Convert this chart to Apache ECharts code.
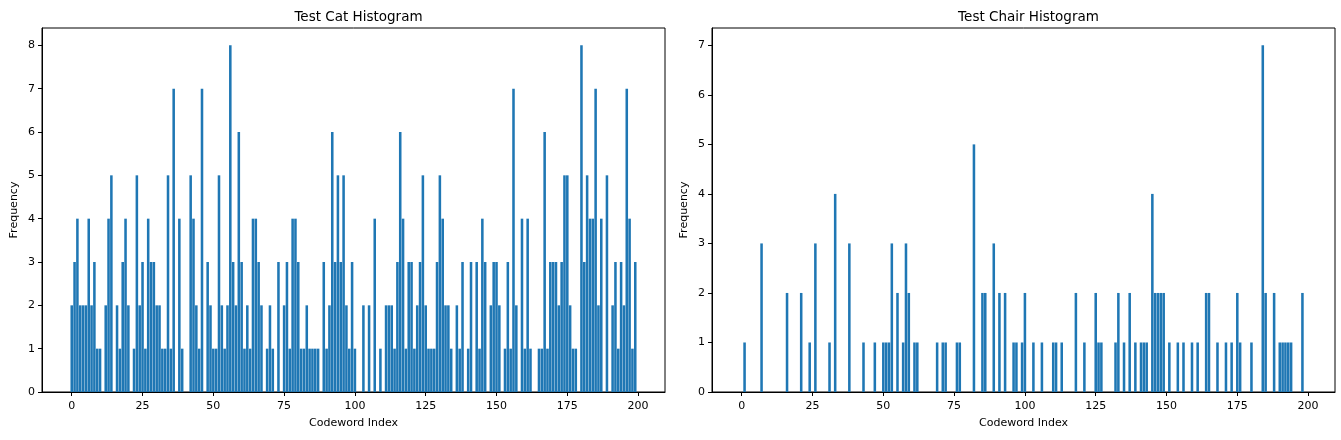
<!DOCTYPE html>
<html>
<head>
<meta charset="utf-8">
<script src="https://cdn.jsdelivr.net/npm/echarts@6/dist/echarts.min.js"></script>
<style>
  html, body { margin: 0; padding: 0; background: #fff; }
  #main { width: 1341px; height: 440px; }
</style>
</head>
<body>
<div id="main"></div>
<script>
// counts per codeword
var catCounts = [
  2,3,4,2,2,2,4,2,3,1, 1,0,2,4,5,0,2,1,3,4, 2,0,1,5,2,3,1,4,3,3,
  2,2,1,1,5,1,7,0,4,1, 0,0,5,4,2,1,7,0,3,2, 1,1,5,2,1,2,8,3,2,6,
  3,1,2,1,4,4,3,2,0,1, 2,1,0,3,0,2,3,1,4,4, 3,1,1,2,1,1,1,1,0,3,
  1,2,6,3,5,3,5,2,1,3, 1,0,0,2,0,2,0,4,0,1, 0,2,2,2,1,3,6,4,1,3,
  3,1,2,3,5,2,1,1,1,3, 5,4,2,2,1,0,2,1,3,0, 1,3,0,3,1,4,3,0,2,3,
  3,2,0,1,3,1,7,2,0,4, 1,4,1,0,0,1,1,6,1,3, 3,3,2,3,5,5,2,1,1,0,
  8,3,5,4,4,7,2,4,0,5, 0,2,3,1,3,2,7,4,1,3
];
var chairCounts = [
  0,1,0,0,0,0,0,3,0,0, 0,0,0,0,0,0,2,0,0,0, 0,2,0,0,1,0,3,0,0,0,
  0,1,0,4,0,0,0,0,3,0, 0,0,0,1,0,0,0,1,0,0, 1,1,1,3,0,2,0,1,3,2,
  0,1,1,0,0,0,0,0,0,1, 0,1,1,0,0,0,1,1,0,0, 0,0,5,0,0,2,2,0,0,3,
  0,2,0,2,0,0,1,1,0,1, 2,0,0,1,0,0,1,0,0,0, 1,1,0,1,0,0,0,0,2,0,
  0,1,0,0,0,2,1,1,0,0, 0,0,1,2,0,1,0,2,0,1, 0,1,1,1,0,4,2,2,2,2,
  0,1,0,0,1,0,1,0,0,1, 0,1,0,0,2,2,0,0,1,0, 0,1,0,1,0,2,1,0,0,0,
  1,0,0,0,7,2,0,0,2,0, 1,1,1,1,1,0,0,0,2,0
];
var xTicks = [0, 25, 50, 75, 100, 125, 150, 175, 200];
var catYTicks = [0, 1, 2, 3, 4, 5, 6, 7, 8];
var chairYTicks = [0, 1, 2, 3, 4, 5, 6, 7];

var font = 'DejaVu Sans';
var barColor = '#1f77b4';

function toPoints(arr) {
  return arr.map(function (v, i) { return [i, v]; });
}

function renderBar(params, api) {
  var x = api.value(0), v = api.value(1);
  if (!v) return null;
  var p0 = api.coord([x - 0.45, v]);
  var p1 = api.coord([x + 0.45, 0]);
  return {
    type: 'rect',
    shape: { x: p0[0], y: p0[1], width: p1[0] - p0[0], height: p1[1] - p0[1] },
    style: { fill: barColor }
  };
}

function xAxisFor(idx) {
  return {
    type: 'value', gridIndex: idx, min: -10.5, max: 209.5,
    name: 'Codeword Index', nameLocation: 'middle', nameGap: 26,
    nameTextStyle: { fontFamily: font, fontSize: 11, color: '#000' },
    axisLine: { show: true, onZero: false, lineStyle: { color: '#000', width: 1 } },
    axisTick: { show: true, length: 4, customValues: xTicks, lineStyle: { color: '#000' } },
    axisLabel: { customValues: xTicks, margin: 9, fontFamily: font, fontSize: 11, color: '#000' },
    splitLine: { show: false }
  };
}

function yAxisFor(idx, max, ticks) {
  return {
    type: 'value', gridIndex: idx, min: 0, max: max,
    name: 'Frequency', nameLocation: 'middle', nameGap: 22,
    nameTextStyle: { fontFamily: font, fontSize: 11, color: '#000' },
    axisLine: { show: true, onZero: false, lineStyle: { color: '#000', width: 1 } },
    axisTick: { show: true, length: 4, customValues: ticks, lineStyle: { color: '#000' } },
    axisLabel: { customValues: ticks, margin: 7, fontFamily: font, fontSize: 11, color: '#000' },
    splitLine: { show: false }
  };
}

var chart = echarts.init(document.getElementById('main'), null, { renderer: 'canvas' });

var option = {
  animation: false,
  backgroundColor: '#fff',
  title: [
    { text: 'Test Cat Histogram', left: 353.5, top: 5, textAlign: 'center',
      textStyle: { fontFamily: font, fontSize: 13.5, fontWeight: 'normal', color: '#000' } },
    { text: 'Test Chair Histogram', left: 1023.5, top: 5, textAlign: 'center',
      textStyle: { fontFamily: font, fontSize: 13.5, fontWeight: 'normal', color: '#000' } }
  ],
  grid: [
    { left: 42, top: 28, width: 623, height: 364, show: true, borderColor: '#000', borderWidth: 1 },
    { left: 712, top: 28, width: 623, height: 364, show: true, borderColor: '#000', borderWidth: 1 }
  ],
  xAxis: [xAxisFor(0), xAxisFor(1)],
  yAxis: [yAxisFor(0, 8.4, catYTicks), yAxisFor(1, 7.35, chairYTicks)],
  series: [
    { type: 'custom', xAxisIndex: 0, yAxisIndex: 0, renderItem: renderBar, data: toPoints(catCounts) },
    { type: 'custom', xAxisIndex: 1, yAxisIndex: 1, renderItem: renderBar, data: toPoints(chairCounts) }
  ]
};

chart.setOption(option);
</script>
</body>
</html>
